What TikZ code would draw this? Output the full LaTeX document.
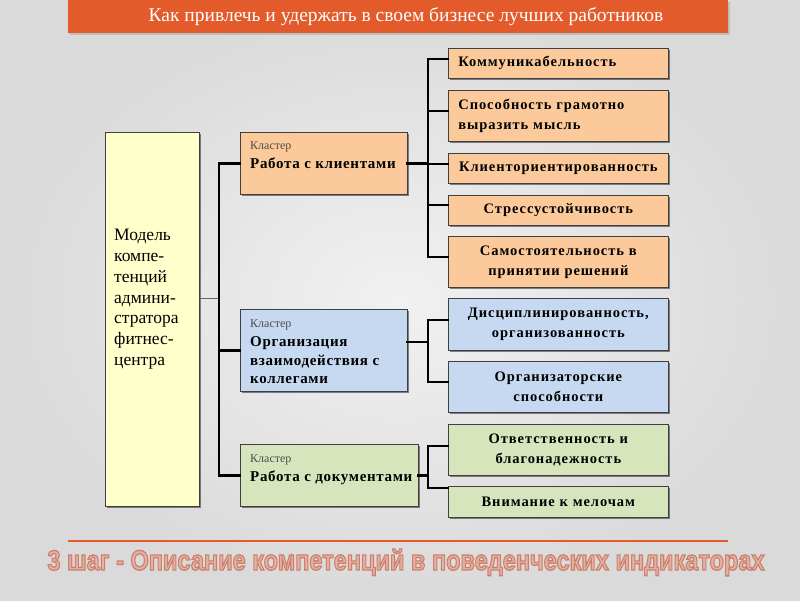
\documentclass[tikz,border=0pt]{standalone}
\usepackage{fontspec}
\usepackage{graphicx}
\setmainfont{Liberation Serif}
\newfontfamily\footfont{Liberation Sans}
\usetikzlibrary{shadows,calc}
\definecolor{titleor}{HTML}{E35A2B}
\definecolor{peach}{HTML}{FCCA9A}
\definecolor{lblue}{HTML}{C6D9F1}
\definecolor{lgreen}{HTML}{D7E5BD}
\definecolor{lyellow}{HTML}{FFFFCC}
\definecolor{foottxt}{HTML}{E4B2A4}
\definecolor{bgin}{HTML}{F1F1F1}
\definecolor{bgout}{HTML}{DADADA}
\begin{document}
\begin{tikzpicture}[x=1pt,y=-1pt,
  shad/.style={drop shadow={shadow xshift=2pt,shadow yshift=-2pt,opacity=0.55,fill=black!85}},
  rbox/.style={draw=black!75, line width=0.7pt, anchor=north west, minimum width=220pt,
    text width=200pt, inner sep=0pt, align=center, shad,
    font=\bfseries\fontsize{14.5}{20}\selectfont\addfontfeature{LetterSpace=6.5}},
  cbox/.style={draw=black!75, line width=0.7pt, anchor=north west, inner sep=0pt, shad},
  ktext/.style={anchor=base west, inner sep=0pt, text=black!70, font=\fontsize{12}{14}\selectfont},
  mtext/.style={anchor=north west, inner sep=0pt, align=left,
    font=\bfseries\fontsize{15}{18.5}\selectfont\addfontfeature{LetterSpace=4.5}},
  trunk/.style={line width=2.6pt, line cap=rect},
  thinln/.style={line width=0.7pt, draw=black!60}
]
\useasboundingbox (0,0) rectangle (800,600);
\shade[inner color=bgin, outer color=bgout] (0,0) rectangle (800,600);

% title
\node[fill=titleor, anchor=north west, minimum width=660pt, minimum height=33pt, inner sep=0pt,
  drop shadow={shadow xshift=1.5pt,shadow yshift=-1.5pt,opacity=0.3}] (tb) at (68,0) {};
\node[text=white, font=\fontsize{19.5}{22}\selectfont, inner sep=0pt] (tt) at (406,17)
  {Как привлечь и удержать в своем бизнесе лучших работников};

% left box
\node[cbox, fill=lyellow, minimum width=94pt, minimum height=374pt] (L) at (105,132) {};
\node[anchor=north west, inner sep=0pt, align=left, font=\fontsize{17.5}{20.8}\selectfont] (Lt) at (114,229)
  {Модель\\компе-\\тенций\\админи-\\стратора\\фитнес-\\центра};

% clusters
\node[cbox, fill=peach, minimum width=167pt, minimum height=62pt] (c1) at (240,132) {};
\node[ktext] (c1k) at (250,149) {Кластер};
\node[mtext] (c1m) at (250,157.5) {Работа с клиентами};

\node[cbox, fill=lblue, minimum width=167pt, minimum height=82pt] (c2) at (240,309) {};
\node[ktext] (c2k) at (250,327) {Кластер};
\node[mtext] (c2m) at (250,336.5) {Организация\\взаимодействия с\\коллегами};

\node[cbox, fill=lgreen, minimum width=178pt, minimum height=62pt] (c3) at (240,444) {};
\node[ktext] (c3k) at (250,462) {Кластер};
\node[mtext] (c3m) at (250,470.5) {Работа с документами};

% right boxes
\node[rbox, fill=peach, minimum height=30pt, align=left] (r1) at (448,48) {Коммуникабельность};
\node[rbox, fill=peach, minimum height=51pt, align=left] (r2) at (448,90) {Способность грамотно\\выразить мысль};
\node[rbox, fill=peach, minimum height=30pt] (r3) at (448,153) {Клиенториентированность};
\node[rbox, fill=peach, minimum height=30pt] (r4) at (448,195) {Стрессустойчивость};
\node[rbox, fill=peach, minimum height=51pt] (r5) at (448,236) {Самостоятельность в\\принятии решений};
\node[rbox, fill=lblue, minimum height=52pt] (r6) at (448,298) {Дисциплинированность,\\организованность};
\node[rbox, fill=lblue, minimum height=51pt] (r7) at (448,361) {Организаторские\\способности};
\node[rbox, fill=lgreen, minimum height=51pt] (r8) at (448,424) {Ответственность и\\благонадежность};
\node[rbox, fill=lgreen, minimum height=31pt] (r9) at (448,486) {Внимание к мелочам};

% connectors: main trunk
\coordinate (tA) at (219,298);
\draw[thinln] (L.east |- tA) -- (tA);
\draw[trunk] (c1.west) -- (c1.west -| tA) |- (c3.west);
\draw[trunk] (c2.west) -- (c2.west -| tA);

% group 1
\coordinate (b1) at (428,59);
\coordinate (b2) at (428,111);
\coordinate (b3) at (428,164);
\coordinate (b4) at (428,205);
\coordinate (b5) at (428,257);
\draw[trunk] (r1.west |- b1) -- (b1) -- (b5) -- (r5.west |- b5);
\draw[trunk] (r2.west |- b2) -- (b2);
\draw[trunk] (r3.west |- b3) -- (b3);
\draw[trunk] (r4.west |- b4) -- (b4);
\draw[trunk] (c1.east) -- (c1.east -| b3);

% group 2
\coordinate (b6) at (428,320);
\coordinate (b7) at (428,382);
\coordinate (m2) at (428,342);
\draw[trunk] (r6.west |- b6) -- (b6) -- (b7) -- (r7.west |- b7);
\draw[trunk] (c2.east |- m2) -- (m2);

% group 3
\coordinate (b8) at (428,446);
\coordinate (b9) at (428,488);
\draw[trunk] (r8.west |- b8) -- (b8) -- (b9) -- (r9.west |- b9);
\draw[trunk] (c3.east) -- (c3.east -| b8);

% footer
\coordinate (fl) at (68,541);
\coordinate (fr) at (728,541);
\draw[titleor, line width=2pt] (fl) -- (fr);
\node[anchor=base, inner sep=0pt] (foot) at (406,570)
  {\resizebox{717pt}{21pt}{\footfont\bfseries\color{foottxt}\special{pdf:code 2 Tr 0.45 w 0.80 0.50 0.42 RG}3 шаг - Описание компетенций в поведенческих индикаторах\special{pdf:code 0 Tr}}};
\end{tikzpicture}
\end{document}
